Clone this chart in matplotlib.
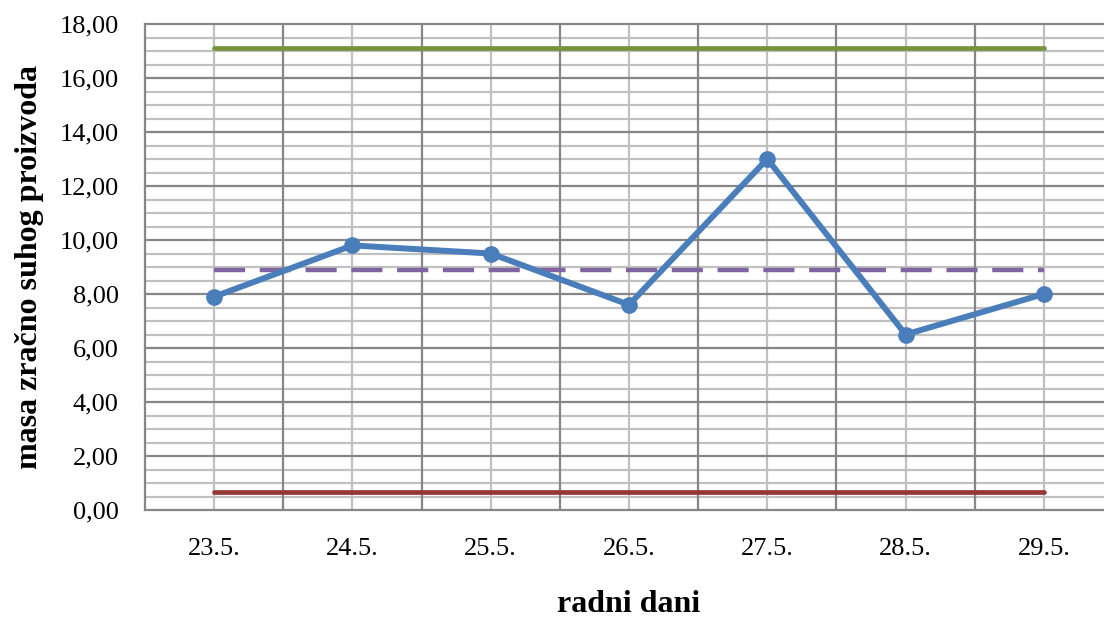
import matplotlib
matplotlib.use("Agg")
import matplotlib.pyplot as plt
from matplotlib.ticker import MultipleLocator, FuncFormatter
import numpy as np

days = ["23.5.", "24.5.", "25.5.", "26.5.", "27.5.", "28.5.", "29.5."]
mass = [7.9, 9.8, 9.5, 7.6, 13.0, 6.5, 8.0]
ucl = [17.12] * 7
center = [8.9] * 7
lcl = [0.68] * 7

plt.rcParams['font.family'] = ['Liberation Serif', 'DejaVu Serif']

fig = plt.figure(figsize=(11.04, 6.18), dpi=100)
ax = fig.add_axes([145/1104, 1 - 510/618, 968/1104, 486/618])

x = np.arange(len(days))
ax.set_xlim(-0.5, len(days) - 0.5)
ax.set_ylim(0, 18)

# grid
for yv in np.arange(0.5, 18.01, 0.5):
    if abs(yv % 2) < 1e-9:
        continue
    ax.axhline(yv, color='#c0c0c0', lw=1.6, zorder=1)
for yv in np.arange(2, 18.01, 2):
    ax.axhline(yv, color='#868686', lw=1.6, zorder=1.2, clip_on=False)
for xv in x:
    ax.axvline(xv, color='#c0c0c0', lw=1.6, zorder=1)
for xv in np.arange(0.5, len(days), 1.0):
    ax.axvline(xv, color='#868686', lw=1.6, zorder=1.2)

ax.plot(x, ucl, color='#77933c', lw=3.4, solid_capstyle='round', zorder=3)
ax.plot(x, lcl, color='#953735', lw=3.4, solid_capstyle='round', zorder=3)
ax.plot(x, center, color='#8064a2', lw=3.2, dashes=(7.0, 3.3), zorder=3)
ax.plot(x, mass, color='#4a7ebb', lw=4.3, marker='o', markersize=11,
        solid_joinstyle='round', zorder=4)

for s in ['top', 'right']:
    ax.spines[s].set_visible(False)
for s in ['left', 'bottom']:
    ax.spines[s].set_color('#868686')
    ax.spines[s].set_linewidth(1.6)

ax.yaxis.set_major_locator(MultipleLocator(2))
ax.yaxis.set_major_formatter(FuncFormatter(lambda v, p: f"{v:.2f}".replace('.', ',')))
ax.set_xticks(x)
ax.set_xticklabels(days)
ax.tick_params(axis='both', length=0, labelsize=19, colors='black')
ax.tick_params(axis='y', pad=19)
ax.tick_params(axis='x', pad=20)

fig.text(30/1104, 1 - 267/618, "masa zračno suhog proizvoda", rotation=90,
         ha='center', va='center', fontsize=23, fontweight='bold')
fig.text(629/1104, 1 - 604/618, "radni dani", ha='center', va='center',
         fontsize=23, fontweight='bold')

fig.savefig("out.png", dpi=100)
